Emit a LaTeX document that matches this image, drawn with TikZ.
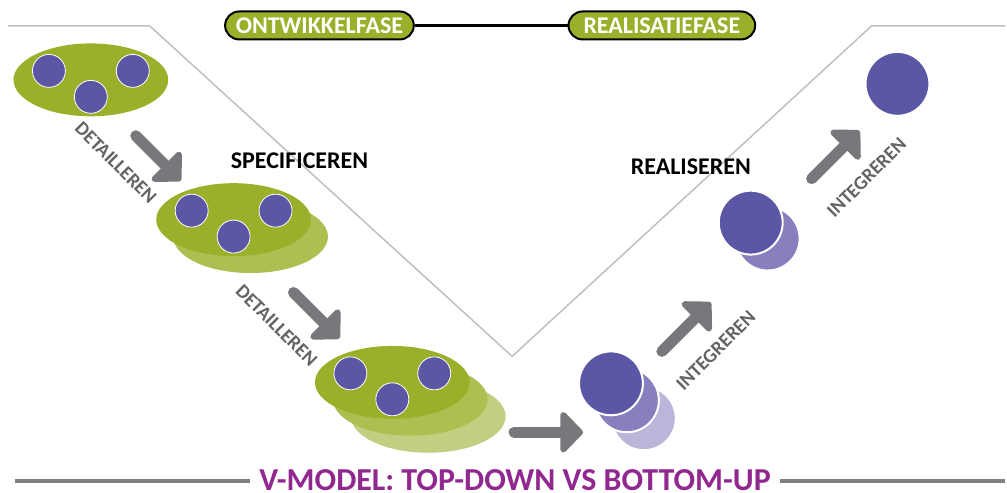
\documentclass[tikz,border=0pt]{standalone}
\usepackage{fontspec}
\setmainfont{Carlito}
\usetikzlibrary{shapes.geometric,arrows.meta,positioning,calc}
\definecolor{blobgreen}{RGB}{155,176,42}
\definecolor{blobmid}{RGB}{173,191,80}
\definecolor{bloblight}{RGB}{193,207,128}
\definecolor{unitpurple}{RGB}{91,87,165}
\definecolor{unitmid}{RGB}{136,128,190}
\definecolor{unitlight}{RGB}{186,182,218}
\definecolor{arrowgrey}{RGB}{119,120,123}
\definecolor{labelgrey}{RGB}{100,100,103}
\definecolor{vgrey}{RGB}{192,192,192}
\definecolor{rulegrey}{RGB}{128,128,128}
\definecolor{titlepurple}{RGB}{145,40,143}

\begin{document}
\begin{tikzpicture}[
    x=1pt, y=-1pt,
    every node/.style={font=\bfseries},
    blob/.style={ellipse, fill=blobgreen, minimum width=155, minimum height=73, inner sep=0},
    unit/.style={circle, fill=unitpurple, draw=white, line width=0.8, minimum size=33, inner sep=0},
    part/.style={circle, fill=unitpurple, draw=white, line width=2, minimum size=64, inner sep=0},
    phase/.style={rectangle, rounded corners=14, fill=blobgreen, draw=black, line width=2, text=white, font=\bfseries\fontsize{24}{24}\selectfont, minimum height=28, inner xsep=6, inner ysep=1},
    stagelabel/.style={font=\bfseries\fontsize{24}{24}\selectfont},
    actlabel/.style={text=labelgrey, font=\bfseries\fontsize{19.5}{19.5}\selectfont},
    title/.style={text=titlepurple, font=\bfseries\fontsize{32}{32}\selectfont, inner xsep=9, inner ysep=0},
    bigarrow/.style={draw=arrowgrey, line width=11, line cap=round, -{Triangle[length=24pt, width=48pt, round]}},
    rule/.style={draw=rulegrey, line width=3.5},
    vline/.style={draw=vgrey, line width=1.5}
]
\fill[white] (0,0) rectangle (1007,493);

% the V
\draw[vline] (8,26) -- (150,26) -- (513,357) -- (873,26) -- (1007,26);

% title with rules
\node[title] (title) at (516,481) {V-MODEL: TOP-DOWN VS BOTTOM-UP};
\coordinate (rl) at (15,482);
\coordinate (rr) at (1007,482);
\draw[rule] (rl) -- (rl -| title.west);
\draw[rule] (title.east |- rr) -- (rr);

% phases
\node[phase, minimum width=189] (ontw) at (320,25.5) {ONTWIKKELFASE};
\node[phase, minimum width=187] (realf) at (663,25.5) {REALISATIEFASE};
\draw[line width=2.5] (ontw) -- (realf);

% top-down: groups of units
\node[blob, fill=bloblight] (s3c) at (429,417) {};
\node[blob, fill=blobmid] (s3b) at (411,400) {};
\node[blob] (s3) at (393,383) {};
\node[blob, fill=blobmid] (s2b) at (251,237) {};
\node[blob] (s2) at (234,220) {};
\node[blob] (s1) at (91,80) {};
\foreach \s in {s1,s2,s3} {
  \node[unit] (\s-l) at ($(\s)+(-42,-9)$) {};
  \node[unit] (\s-r) at ($(\s)+(42,-9)$) {};
  \node[unit] (\s-m) at ($(\s)+(0,17)$) {};
}

% bottom-up: parts
\node[part, fill=unitlight] (p1c) at (645,419) {};
\node[part, fill=unitmid] (p1b) at (628,401) {};
\node[part] (p1) at (612,384) {};
\node[part, fill=unitmid] (p2b) at (769,239) {};
\node[part] (p2) at (752,223) {};
\node[part] (p3) at (899,84) {};

% arrows
\coordinate (d1a) at (136,136);
\coordinate (d1b) at (181,181);
\coordinate (d2a) at (294,293);
\coordinate (d2b) at (340,339);
\coordinate (ra) at (515,433);
\coordinate (rb) at (584,433);
\coordinate (i1a) at (663,352);
\coordinate (i1b) at (712,303);
\coordinate (i2a) at (813,179);
\coordinate (i2b) at (861,131);
\draw[bigarrow] (d1a) -- (d1b);
\draw[bigarrow] (d2a) -- (d2b);
\draw[bigarrow] (ra) -- (rb);
\draw[bigarrow] (i1a) -- (i1b);
\draw[bigarrow] (i2a) -- (i2b);

% labels
\node[actlabel, rotate=-45] (det1) at (116,163) {DETAILLEREN};
\node[actlabel, rotate=-45] (det2) at (277,326) {DETAILLEREN};
\node[actlabel, rotate=45] (int1) at (717,351) {INTEGREREN};
\node[actlabel, rotate=45] (int2) at (868,178) {INTEGREREN};
\node[stagelabel] (spec) at (300,161) {SPECIFICEREN};
\node[stagelabel] (real) at (692,167) {REALISEREN};

\useasboundingbox (0,0) rectangle (1007,493);
\end{tikzpicture}
\end{document}
